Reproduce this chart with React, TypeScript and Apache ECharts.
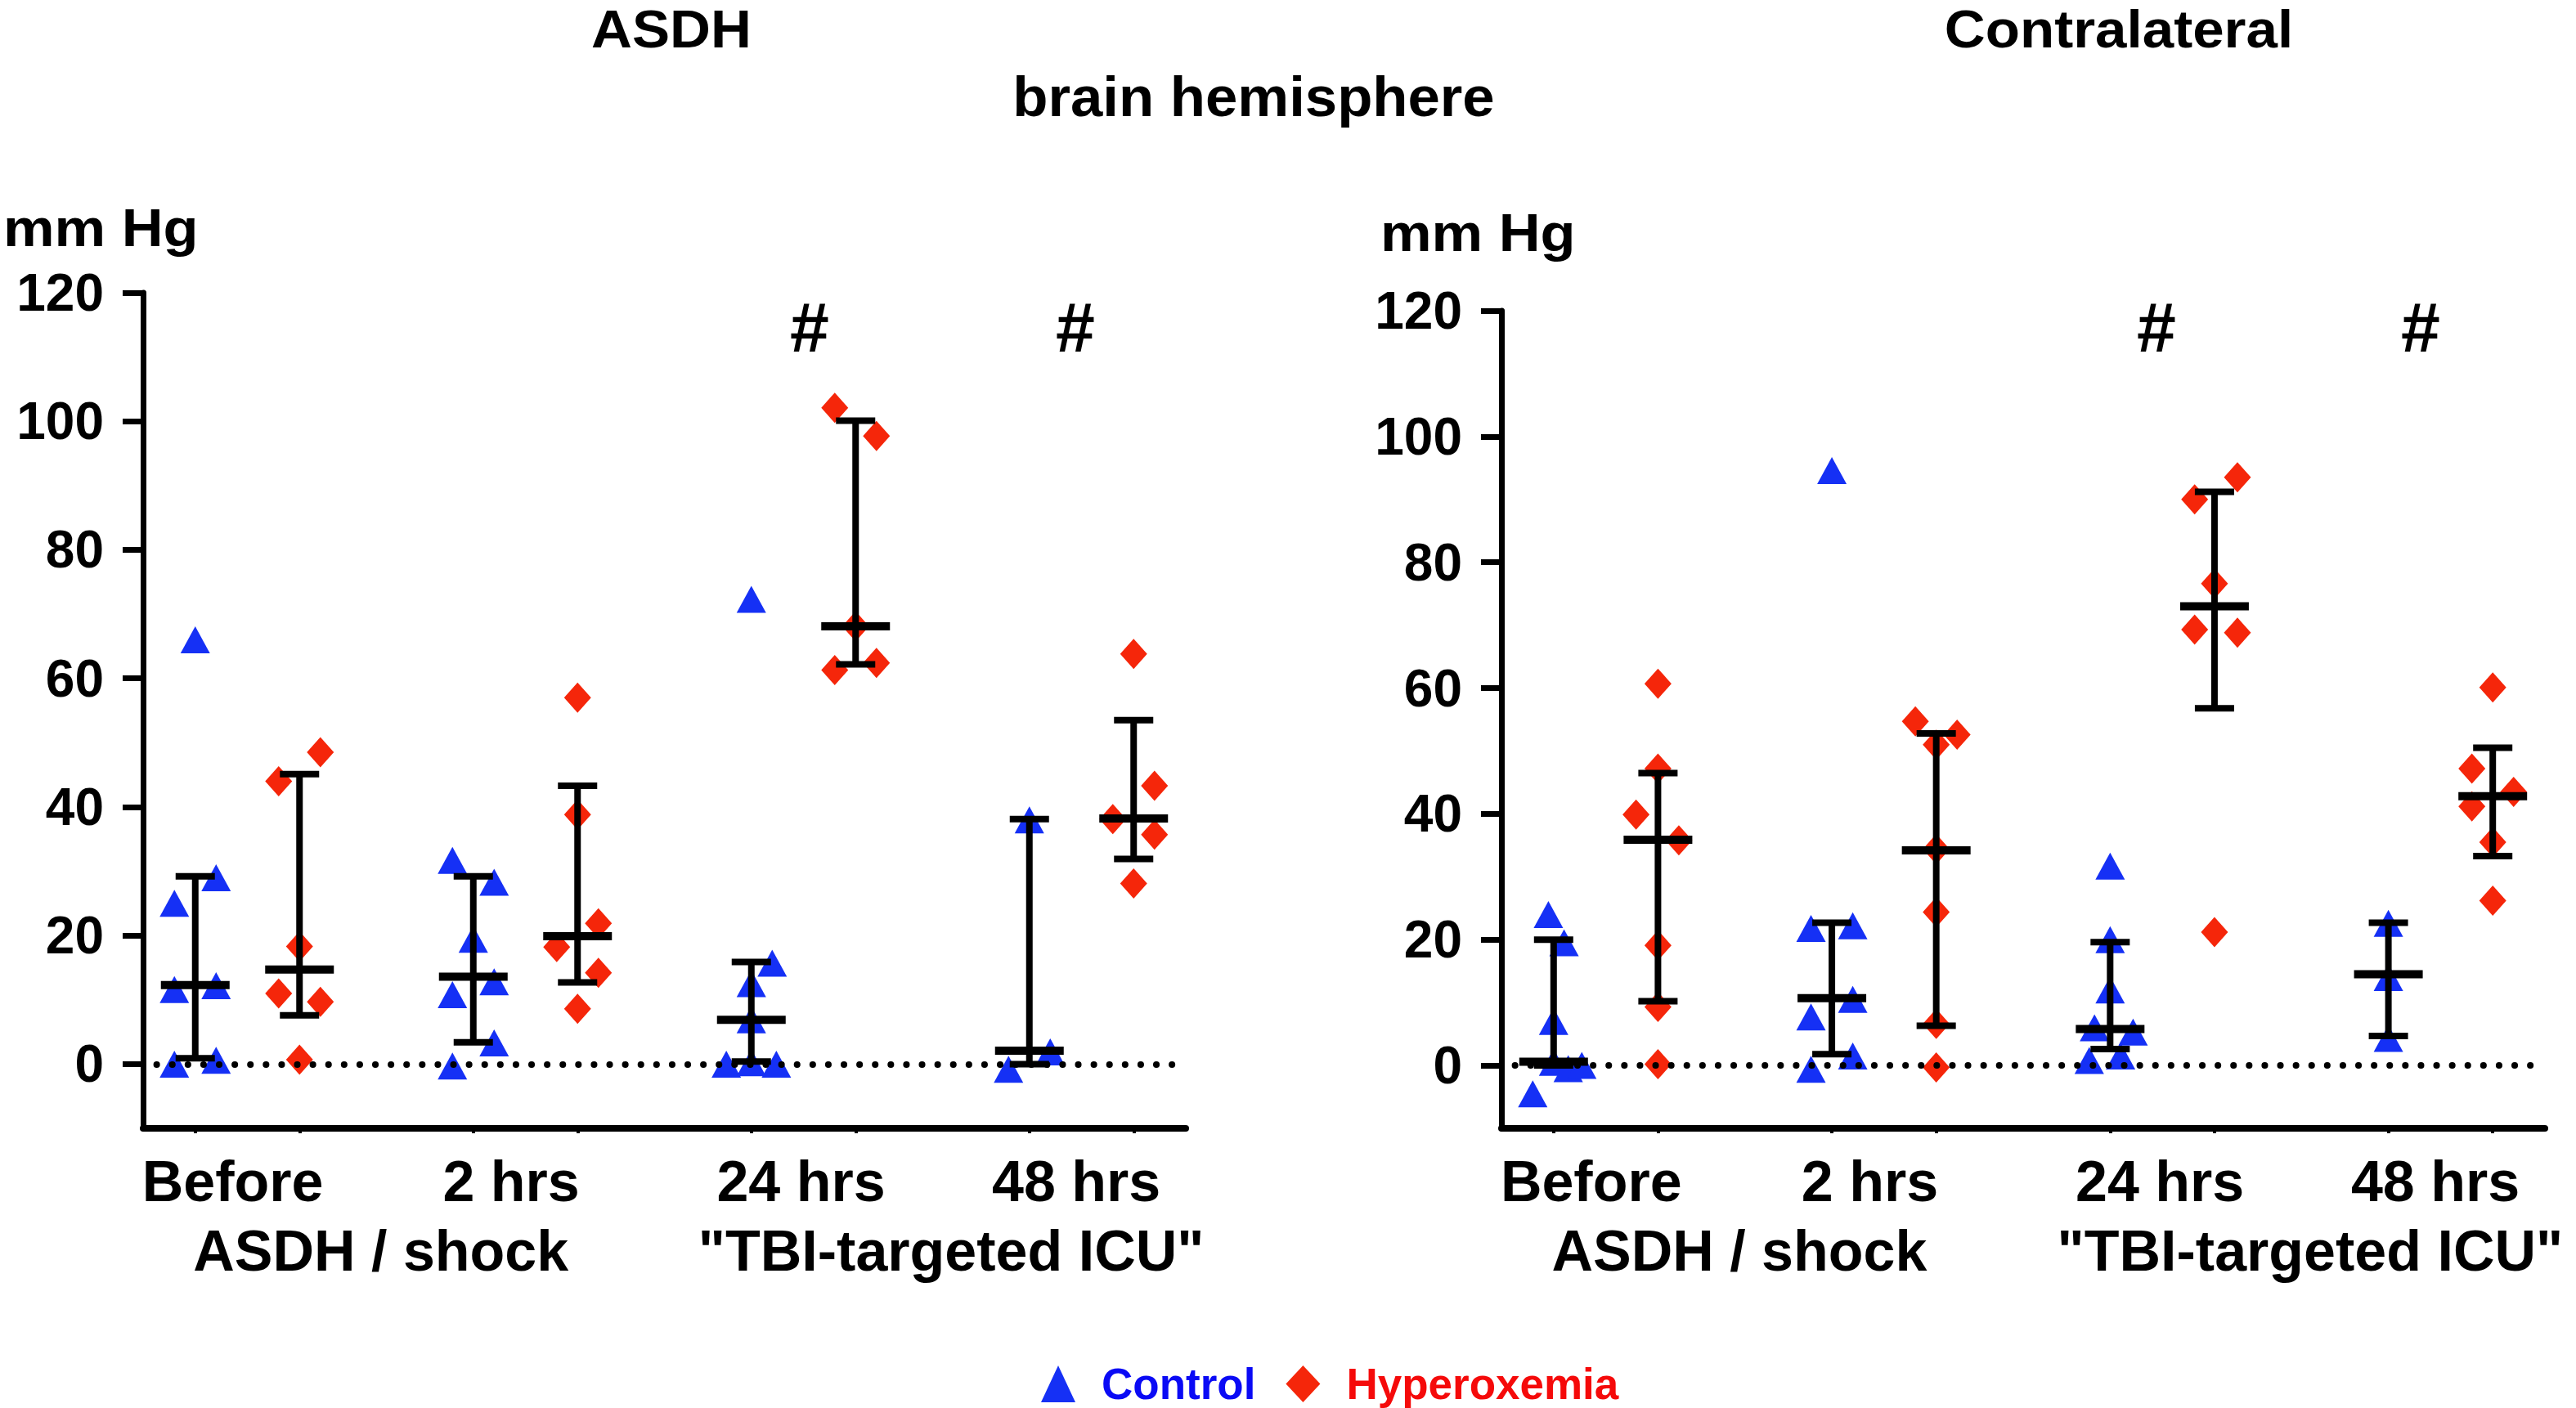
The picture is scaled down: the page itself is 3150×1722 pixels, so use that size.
import React, { useEffect, useRef } from 'react';
import * as echarts from 'echarts';

// ---------- data ----------
const categories = ['Before', '2 hrs', '24 hrs', '48 hrs'];
const phaseLabels = ['ASDH / shock', '"TBI-targeted ICU"'];
const yTicks = [0, 20, 40, 60, 80, 100, 120];
const panelTitles = ['ASDH', 'Contralateral'];
const seriesNames = ['Control', 'Hyperoxemia'];

// each point: [horizontal jitter (in column widths), value in mm Hg]
const asdhControl = [
  [[0, 66], [-0.2, 25], [0.2, 29], [-0.2, 11.6], [0.2, 12.2], [-0.2, 0], [0.2, 0.6]],
  [[-0.2, 31.7], [0.2, 28.3], [0, 19.4], [-0.2, 10.8], [0.2, 12.8], [0.2, 3.3], [-0.2, -0.3]],
  [[0, 72.3], [0.2, 15.7], [0, 12.5], [0, 6.9], [-0.24, 0], [0, 0.2], [0.24, 0]],
  [[0, 38], [-0.2, -0.8], [0.2, 1.9]],
];
const asdhHyper = [
  [[-0.2, 44], [0.2, 48.5], [0, 18.3], [-0.2, 11], [0.2, 9.7], [0, 0.7]],
  [[0, 57], [0, 38.8], [0.2, 21.9], [-0.2, 18.2], [0.2, 14.2], [0, 8.6]],
  [[-0.2, 102.1], [0.2, 97.7], [0, 68.1], [-0.2, 61.3], [0.2, 62.4]],
  [[0, 63.8], [0.2, 43.3], [-0.2, 38.1], [0.2, 35.7], [0, 28.1]],
];
const contraControl = [
  [[-0.05, 24], [0.1, 19.5], [0, 7], [-0.2, -4.5], [0, 0.5], [0.14, -0.5], [0.27, 0]],
  [[0, 94.6], [-0.2, 21.8], [0.2, 22.2], [-0.2, 7.7], [0.2, 10.5], [-0.2, -0.6], [0.2, 1.5]],
  [[0, 31.7], [0, 20], [0, 12], [-0.15, 6], [0.22, 5.3], [-0.2, 0.8], [0.1, 1.5]],
  [[0, 22.6], [0, 14], [0, 4.3]],
];
const contraHyper = [
  [[0, 60.7], [0, 47.2], [-0.21, 39.9], [0.2, 35.8], [0, 19.1], [0, 9.3], [0, 0.2]],
  [[-0.2, 54.7], [0.2, 52.6], [0, 51], [0, 34.4], [0, 24.4], [0, 6.6], [0, -0.3]],
  [[0.22, 93.5], [-0.19, 90], [0, 76.6], [-0.19, 69.3], [0.22, 68.8], [0, 21.2]],
  [[0, 60.1], [-0.2, 47.2], [0.2, 43.5], [-0.2, 41.2], [0, 35.5], [0, 26.2]],
];

// median and interquartile range per time point
const asdhControlMedian = [12.3, 13.6, 6.9, 2.1];
const asdhControlQ1 = [0.9, 3.4, 0.4, 0];
const asdhControlQ3 = [29.2, 29.2, 15.9, 38.1];
const asdhHyperMedian = [14.7, 19.9, 68.1, 38.2];
const asdhHyperQ1 = [7.6, 12.7, 62.2, 31.9];
const asdhHyperQ3 = [45.1, 43.3, 100.1, 53.5];
const contraControlMedian = [0.6, 10.7, 5.8, 14.5];
const contraControlQ1 = [0, 1.8, 2.6, 4.7];
const contraControlQ3 = [20, 22.7, 19.6, 22.7];
const contraHyperMedian = [35.9, 34.2, 73, 42.8];
const contraHyperQ1 = [10.2, 6.3, 56.8, 33.3];
const contraHyperQ3 = [46.5, 52.8, 91.2, 50.5];

// ---------- layout ----------
const FONT = '"Liberation Sans", Arial, Helvetica, sans-serif';
const BLUE = '#1530f5';
const RED = '#f5260a';
const X_MAX = 10;
const FIRST_COL = 0.5;
const GROUP_STEP = 8 / 3;
const colX = (g: number, arm: number) => FIRST_COL + g * GROUP_STEP + arm;
const catLabelPos = [0.86, 3.53, 6.31, 8.95];
const phaseLabelPos = [2.28, 7.75];
const colTicks = [0, 1, 2, 3].flatMap((g) => [colX(g, 0), colX(g, 1)]);

const grids = [
  { left: 175, top: 358, width: 1275, height: 1022 },
  { left: 1836, top: 380, width: 1276, height: 1000 },
];

const panels = [
  {
    control: asdhControl, hyper: asdhHyper,
    cMed: asdhControlMedian, cQ1: asdhControlQ1, cQ3: asdhControlQ3,
    hMed: asdhHyperMedian, hQ1: asdhHyperQ1, hQ3: asdhHyperQ3,
  },
  {
    control: contraControl, hyper: contraHyper,
    cMed: contraControlMedian, cQ1: contraControlQ1, cQ3: contraControlQ3,
    hMed: contraHyperMedian, hQ1: contraHyperQ1, hQ3: contraHyperQ3,
  },
];

const lookup = (positions: number[], labels: string[]) => (v: number) => {
  const i = positions.findIndex((p) => Math.abs(p - v) < 0.02);
  return i >= 0 ? labels[i] : '';
};

function buildOption() {
  const xAxis: any[] = [];
  const yAxis: any[] = [];
  const series: any[] = [];

  panels.forEach((p, pi) => {
    xAxis.push({
      type: 'value', gridIndex: pi, min: 0, max: X_MAX, position: 'bottom',
      axisLine: { show: true, onZero: false, lineStyle: { color: '#000', width: 8 } },
      axisTick: { show: true, customValues: colTicks, length: 6, lineStyle: { color: '#000', width: 4 } },
      axisLabel: {
        customValues: catLabelPos, formatter: lookup(catLabelPos, categories),
        fontSize: 70, fontWeight: 'bold', fontFamily: FONT, color: '#000', margin: 30,
      },
      splitLine: { show: false },
    });
    xAxis.push({
      type: 'value', gridIndex: pi, min: 0, max: X_MAX, position: 'bottom',
      axisLine: { show: false, onZero: false }, axisTick: { show: false },
      axisLabel: {
        customValues: phaseLabelPos, formatter: lookup(phaseLabelPos, phaseLabels),
        fontSize: 70, fontWeight: 'bold', fontFamily: FONT, color: '#000', margin: 115,
      },
      splitLine: { show: false },
    });
    yAxis.push({
      type: 'value', gridIndex: pi, min: -10, max: 120,
      axisLine: { show: true, onZero: false, lineStyle: { color: '#000', width: 7 } },
      axisTick: { show: true, customValues: yTicks, length: 25, lineStyle: { color: '#000', width: 7 } },
      axisLabel: {
        customValues: yTicks, fontSize: 64, fontWeight: 'bold', fontFamily: FONT, color: '#000', margin: 48,
      },
      splitLine: { show: false },
    });

    const ctrlPts = p.control.flatMap((grp, g) => grp.map(([j, v]) => [colX(g, 0) + j, v]));
    const hyperPts = p.hyper.flatMap((grp, g) => grp.map(([j, v]) => [colX(g, 1) + j, v]));
    const bars = categories.flatMap((_, g) => [
      [colX(g, 0), p.cQ1[g], p.cMed[g], p.cQ3[g]],
      [colX(g, 1), p.hQ1[g], p.hMed[g], p.hQ3[g]],
    ]);

    series.push({
      type: 'scatter', name: seriesNames[0], xAxisIndex: pi * 2, yAxisIndex: pi,
      data: ctrlPts, symbol: 'triangle', symbolSize: [36, 33],
      itemStyle: { color: BLUE, opacity: 1 }, z: 2,
    });
    series.push({
      type: 'scatter', name: seriesNames[1], xAxisIndex: pi * 2, yAxisIndex: pi,
      data: hyperPts, symbol: 'diamond', symbolSize: [33, 37],
      itemStyle: { color: RED, opacity: 1 }, z: 2,
    });
    series.push({
      type: 'custom', name: 'median-iqr-' + pi, xAxisIndex: pi * 2, yAxisIndex: pi, z: 4,
      data: bars, encode: { x: 0, y: [1, 2, 3] },
      renderItem: (params: any, api: any) => {
        const x = api.value(0);
        const lo = api.coord([x, api.value(1)]);
        const md = api.coord([x, api.value(2)]);
        const hi = api.coord([x, api.value(3)]);
        const st = { stroke: '#000', lineWidth: 8, fill: null };
        return {
          type: 'group',
          children: [
            { type: 'line', shape: { x1: lo[0], y1: lo[1], x2: hi[0], y2: hi[1] }, style: st },
            { type: 'line', shape: { x1: lo[0] - 24, y1: lo[1], x2: lo[0] + 24, y2: lo[1] }, style: st },
            { type: 'line', shape: { x1: hi[0] - 24, y1: hi[1], x2: hi[0] + 24, y2: hi[1] }, style: st },
            { type: 'line', shape: { x1: md[0] - 42, y1: md[1], x2: md[0] + 42, y2: md[1] }, style: { stroke: '#000', lineWidth: 10, fill: null } },
          ],
        };
      },
      markLine: {
        silent: true, symbol: 'none', label: { show: false },
        lineStyle: { color: '#000', width: 8, type: [0.1, 19], cap: 'round', opacity: 1 },
        data: [[{ coord: [0.13, 0] }, { coord: [9.95, 0] }]],
      },
    });
  });

  const txt = (text: string, x: number, y: number, size: number, align: string, scaleX = 1) => ({
    type: 'text', x, y, scaleX,
    style: { text, fontSize: size, fontWeight: 'bold', fontFamily: FONT, fill: '#000', align, verticalAlign: 'middle' },
  });

  const graphic = [
    txt(panelTitles[0], 821, 36, 64, 'center', 1.08),
    txt(panelTitles[1], 2591, 36, 64, 'center', 1.08),
    txt('brain hemisphere', 1533, 118, 68, 'center', 1.04),
    txt('mm Hg', 4, 279, 64, 'left', 1.1),
    txt('mm Hg', 1688, 285, 64, 'left', 1.1),
    txt('#', 990, 400, 86, 'center'),
    txt('#', 1315, 400, 86, 'center'),
    txt('#', 2637, 400, 86, 'center'),
    txt('#', 2960, 400, 86, 'center'),
  ];

  return {
    animation: false,
    backgroundColor: '#fff',
    grid: grids.map((g) => ({ ...g, containLabel: false })),
    xAxis, yAxis, series, graphic,
    legend: {
      left: 1268, top: 1661, itemWidth: 42, itemHeight: 45, itemGap: 37, selectedMode: false,
      textStyle: { fontSize: 53, fontWeight: 'bold', fontFamily: FONT, padding: [0, 0, 0, 27] },
      data: [
        { name: seriesNames[0], icon: 'triangle', textStyle: { color: '#0a0af5' } },
        { name: seriesNames[1], icon: 'diamond', textStyle: { color: '#f50a0a' } },
      ],
    },
  };
}

export default function App() {
  const ref = useRef<HTMLDivElement>(null);
  useEffect(() => {
    if (!ref.current) return;
    const chart = echarts.init(ref.current, null, { renderer: 'svg' });
    chart.setOption(buildOption() as any);
    return () => chart.dispose();
  }, []);
  return (
    <div
      ref={ref}
      style={{ position: 'absolute', left: 0, top: 0, width: 3150, height: 1722, background: '#fff' }}
    />
  );
}
